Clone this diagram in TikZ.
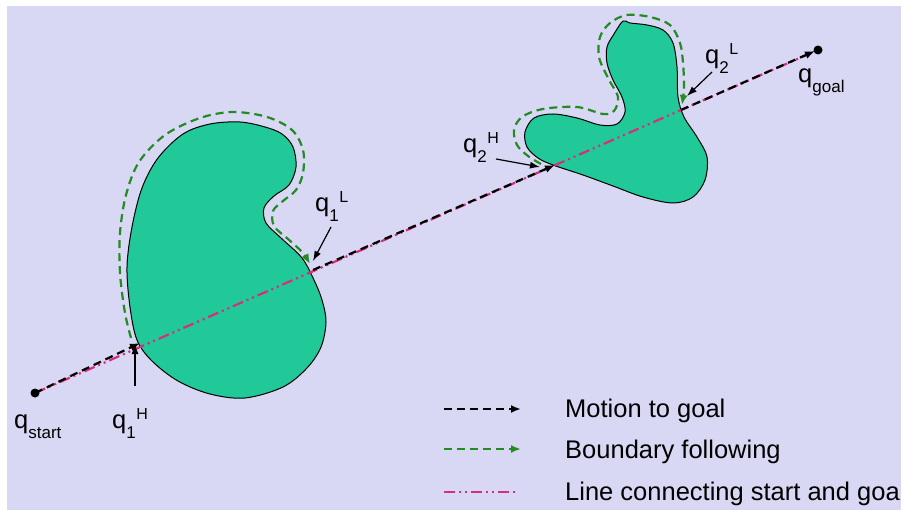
\documentclass[tikz,border=0pt]{standalone}
\usepackage{fontspec}
\setmainfont{Liberation Sans}
\usetikzlibrary{arrows.meta}

\definecolor{bgpanel}{RGB}{216,216,244}
\definecolor{obstfill}{RGB}{32,201,151}
\definecolor{bfgreen}{RGB}{34,139,34}
\definecolor{mlinepink}{RGB}{215,45,125}

% label helpers: subscript hangs below, superscript sits at a fixed offset
\newcommand{\qsubtext}[1]{\raisebox{-10pt}{\fontsize{17}{17}\selectfont #1}}
\newcommand{\qsuptext}[1]{\raisebox{9pt}{\fontsize{16}{16}\selectfont #1}}
\newcommand{\qhit}[2]{q\rlap{\qsubtext{#1}}\hspace{10pt}\qsuptext{#2}}

\tikzset{
  obstacle/.style={fill=obstfill, draw=black, line width=1pt},
  mline/.style={draw=mlinepink, line width=2.2pt,
    dash pattern=on 11pt off 4pt on 2pt off 4pt on 2pt off 4pt},
  motion/.style={draw=black, line width=2.2pt, dash pattern=on 8pt off 5pt,
    -{Latex[length=10pt,width=8pt]}},
  boundary/.style={draw=bfgreen, line width=2.2pt, dash pattern=on 8pt off 5pt,
    -{Latex[length=10pt,width=8pt]}},
  pointer/.style={draw=black, line width=1.2pt, -{Latex[length=10pt,width=7pt]}},
  lbl/.style={inner sep=0pt, anchor=base west, font=\fontsize{25.5}{30}\selectfont},
  endpoint/.style={circle, fill=black, inner sep=0pt, minimum size=9pt},
}

\begin{document}
\begin{tikzpicture}[x=1pt, y=-1pt]
  % page and panel
  \fill[white] (0,0) rectangle (904,510);
  \useasboundingbox (0,0) rectangle (904,510);
  \fill[bgpanel] (7,6) rectangle (901,510);

  % obstacle 1 (kidney)
  \path[obstacle] plot[smooth cycle, tension=0.55] coordinates {
    (210,124) (240,122) (265,127) (282,134) (293,147) (296,167) (289,185)
    (274,196) (264,208) (266,223) (281,238) (302,258) (314,280) (322,300)
    (326,322) (321,347) (307,368) (283,387) (245,398) (210,394) (178,381)
    (152,361) (137,340) (130,307) (127,267) (132,227) (142,188) (158,158)
    (183,134)};

  % obstacle 2
  \path[obstacle] plot[smooth cycle, tension=0.55] coordinates {
    (623,21) (614,34) (607,47) (607,63) (613,80) (622,97) (625,112)
    (617,124) (600,125) (577,118) (553,114) (534,118) (525,132) (527,147)
    (538,158) (553,165) (583,175) (613,186) (643,197) (673,203) (693,197)
    (705,180) (707,157) (697,137) (684,117) (678,97) (677,67) (673,43)
    (663,30) (647,25) (630,23)};

  % key points
  \coordinate (qs) at (35,393);
  \coordinate (qg) at (818,50);
  \coordinate (h1) at (140,343);
  \coordinate (l1) at (313,270);
  \coordinate (h2) at (555,165);
  \coordinate (l2) at (681,110);
  \coordinate (qgtip) at (815,51);

  % straight line from start to goal
  \draw[mline] (qs) -- (qg);

  % motion-to-goal segments
  \draw[motion] (qs) -- (h1);
  \draw[motion] (l1) -- (h2);
  \draw[motion] (l2) -- (qgtip);

  % boundary following around obstacle 1
  \draw[boundary] plot[smooth, tension=0.55] coordinates {
    (131,338) (125,313) (120,273) (120,233) (126,195) (139,162) (165,135)
    (200,118) (233,112) (267,117) (292,130) (303,150) (303,173) (296,190)
    (283,201) (273,211) (274,226) (288,239) (302,252) (310,264)};

  % boundary following around obstacle 2
  \draw[boundary] plot[smooth, tension=0.55] coordinates {
    (541,164) (528,156) (517,145) (514,130) (522,117) (543,109) (577,107)
    (603,114) (614,111) (618,97) (608,78) (599,57) (600,37) (610,23)
    (627,15) (650,17) (670,25) (680,43) (683,63) (684,87) (682,105)};

  % start and goal
  \node[endpoint] (start) at (qs) {};
  \node[endpoint] (goal) at (qg) {};

  % labels
  \node[lbl] (lstart) at (14,428) {q\qsubtext{start}};
  \node[lbl] (lgoal) at (798,83) {q\qsubtext{goal}};
  \node[lbl] (lh1) at (112,428) {\qhit{1}{H}};
  \node[lbl] (ll1) at (315,212) {\qhit{1}{L}};
  \node[lbl] (lh2) at (463,153) {\qhit{2}{H}};
  \node[lbl] (ll2) at (705,64) {\qhit{2}{L}};

  % pointers from labels to hit / leave points
  \coordinate (ph1a) at (135,386);
  \coordinate (ph1b) at (135,344);
  \coordinate (pl1a) at (331,227);
  \coordinate (pl1b) at (313,261);
  \coordinate (ph2a) at (496,159);
  \coordinate (ph2b) at (540,167);
  \coordinate (pl2a) at (712,72);
  \coordinate (pl2b) at (687,96);
  \draw[pointer] (ph1a) -- (ph1b);
  \draw[pointer] (pl1a) -- (pl1b);
  \draw[pointer] (ph2a) -- (ph2b);
  \draw[pointer] (pl2a) -- (pl2b);

  % legend
  \coordinate (k1a) at (444,409); \coordinate (k1b) at (521,409);
  \coordinate (k2a) at (444,449); \coordinate (k2b) at (521,449);
  \coordinate (k3a) at (444,492); \coordinate (k3b) at (518,492);
  \draw[motion] (k1a) -- (k1b);
  \draw[boundary] (k2a) -- (k2b);
  \draw[mline] (k3a) -- (k3b);
  \node[lbl] (t1) at (565,417) {Motion to goal};
  \node[lbl] (t2) at (565,458) {Boundary following};
  \node[lbl] (t3) at (565,500) {Line connecting start and goa};
\end{tikzpicture}
\end{document}
